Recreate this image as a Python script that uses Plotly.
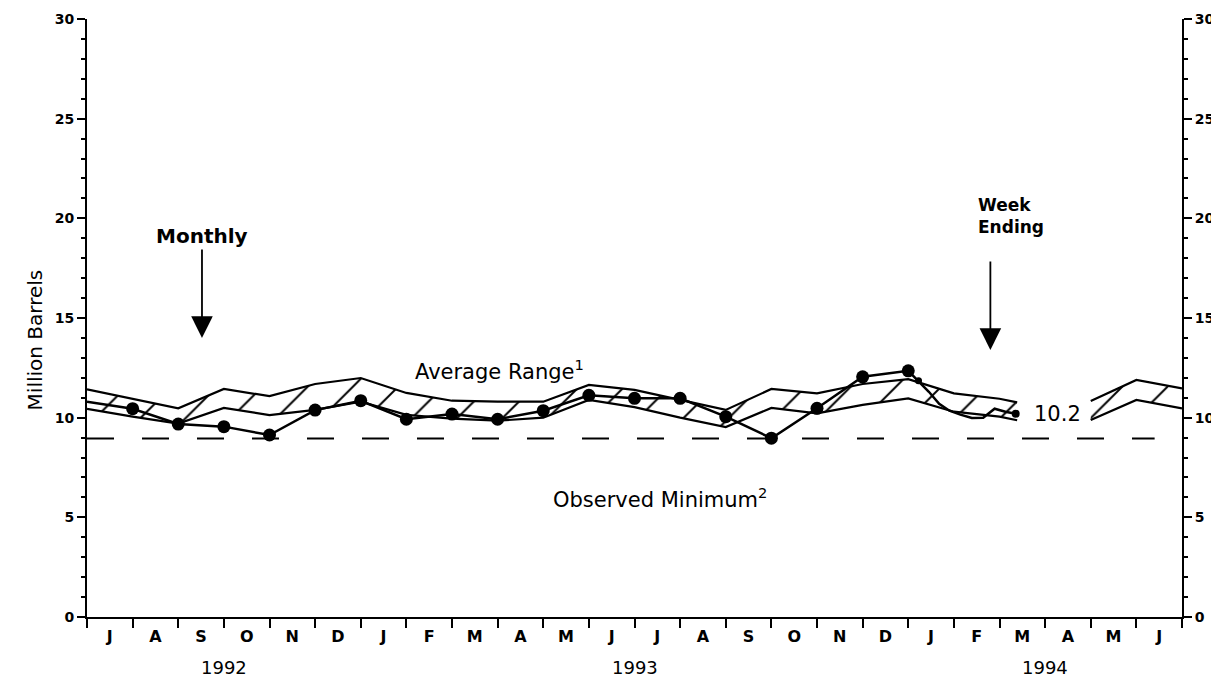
import calendar
import plotly.graph_objects as go

# ---------------- data ----------------
month_letters = ["J", "A", "S", "O", "N", "D", "J", "F", "M", "A", "M", "J",
                 "J", "A", "S", "O", "N", "D", "J", "F", "M", "A", "M", "J"]
year_labels = ["1992", "1993", "1994"]
year_centers = [3, 12, 21]  # month-index centres of each year's span

# monthly stocks (end of month), million barrels
monthly_dates = ["1992-06-30", "1992-07-31", "1992-08-31", "1992-09-30", "1992-10-31",
                 "1992-11-30", "1992-12-31", "1993-01-31", "1993-02-28", "1993-03-31",
                 "1993-04-30", "1993-05-31", "1993-06-30", "1993-07-31", "1993-08-31",
                 "1993-09-30", "1993-10-31", "1993-11-30", "1993-12-31"]
monthly_values = [10.8, 10.45, 9.68, 9.55, 9.13, 10.38, 10.85, 9.92, 10.18, 9.92,
                  10.35, 11.12, 10.97, 10.97, 10.05, 8.97, 10.47, 12.05, 12.35]

# weekly stocks (week ending), million barrels
weekly_dates = ["1994-01-07", "1994-01-14", "1994-01-21", "1994-01-28", "1994-02-04",
                "1994-02-11", "1994-02-18", "1994-02-25", "1994-03-04", "1994-03-11"]
weekly_values = [11.85, 11.3, 10.7, 10.35, 10.15, 9.98, 10.0, 10.45, 10.3, 10.2]

# average range band (upper / lower), two segments
band1_dates = ["1992-06-30", "1992-07-31", "1992-08-31", "1992-09-30", "1992-10-31",
               "1992-11-30", "1992-12-31", "1993-01-31", "1993-02-28", "1993-03-31",
               "1993-04-30", "1993-05-31", "1993-06-30", "1993-07-31", "1993-08-31",
               "1993-09-30", "1993-10-31", "1993-11-30", "1993-12-31", "1994-01-31",
               "1994-02-28", "1994-03-12"]
band1_upper = [11.42, 10.95, 10.47, 11.44, 11.08, 11.69, 11.99, 11.24, 10.85, 10.8,
               10.8, 11.64, 11.39, 10.89, 10.39, 11.44, 11.22, 11.69, 11.93, 11.22,
               10.95, 10.77]
band1_lower = [10.44, 10.05, 9.7, 10.49, 10.13, 10.39, 10.8, 10.14, 9.95, 9.85,
               10.0, 10.89, 10.53, 10.0, 9.53, 10.49, 10.22, 10.64, 10.97, 10.3,
               10.05, 9.87]
band2_dates = ["1994-04-30", "1994-05-31", "1994-06-30"]
band2_upper = [10.84, 11.89, 11.47]
band2_lower = [9.88, 10.89, 10.47]

observed_minimum = 8.95


def mpos(d):
    """Month index from end of June 1992 (0) to end of June 1994 (24)."""
    y, m, dd = (int(p) for p in d.split("-"))
    return (y - 1992) * 12 + (m - 7) + dd / calendar.monthrange(y, m)[1]


FONT = "DejaVu Sans"
fig = go.Figure()

# ---------------- average range band ----------------
for dates, up, lo in [(band1_dates, band1_upper, band1_lower),
                      (band2_dates, band2_upper, band2_lower)]:
    xs = [mpos(d) for d in dates]
    fig.add_trace(go.Scatter(x=xs, y=lo, mode="lines",
                             line=dict(color="black", width=2.2),
                             showlegend=False, hoverinfo="skip"))
    fig.add_trace(go.Scatter(x=xs, y=up, mode="lines", fill="tonexty",
                             fillcolor="rgba(0,0,0,0)",
                             fillpattern=dict(shape="/", fgcolor="black",
                                              fgopacity=1,
                                              bgcolor="rgba(0,0,0,0)",
                                              size=32, solidity=0.06),
                             line=dict(color="black", width=2.2),
                             showlegend=False, hoverinfo="skip"))

# ---------------- observed minimum ----------------
fig.add_trace(go.Scatter(x=[0, 23.4], y=[observed_minimum, observed_minimum],
                         mode="lines",
                         line=dict(color="black", width=2, dash="27px,28px"),
                         showlegend=False, hoverinfo="skip"))

# ---------------- stocks line ----------------
all_x = [mpos(d) for d in monthly_dates] + [mpos(d) for d in weekly_dates]
all_y = monthly_values + weekly_values
sizes = [0] + [13] * (len(monthly_values) - 1) + [7] + [0] * (len(weekly_values) - 2) + [8]
fig.add_trace(go.Scatter(x=all_x, y=all_y, mode="lines+markers",
                         line=dict(color="black", width=2.5),
                         marker=dict(color="#000000", size=sizes, opacity=1,
                                     line=dict(width=0, color="#000000")),
                         showlegend=False, hoverinfo="skip"))

# invisible trace for the right axis
fig.add_trace(go.Scatter(x=[0], y=[0], yaxis="y2", mode="markers",
                         marker=dict(size=0, opacity=0), showlegend=False,
                         hoverinfo="skip"))

# ---------------- axes ----------------
yax = dict(range=[0, 30], tickmode="linear", tick0=0, dtick=5, automargin=False,
           ticks="outside", ticklen=8, tickwidth=2, tickcolor="black",
           showline=True, linecolor="black", linewidth=2,
           showgrid=False, zeroline=False,
           tickfont=dict(family=FONT, size=14, color="black", weight="bold"),
           minor=dict(tick0=0, dtick=1, ticks="outside", ticklen=4,
                      tickwidth=1.5, tickcolor="black", showgrid=False))

# the page body adds an 8px offset, so the figure is 8px smaller than the window
fig.update_layout(
    width=1211, height=678,
    margin=dict(l=79, r=37, t=11, b=69, autoexpand=False),
    paper_bgcolor="white", plot_bgcolor="white",
    xaxis=dict(range=[0, 24], showgrid=False, zeroline=False, automargin=False,
               showline=True, linecolor="black", linewidth=2,
               tickmode="array", tickvals=[i + 0.5 for i in range(24)],
               ticktext=month_letters, ticks="", ticklabelstandoff=4,
               tickfont=dict(family=FONT, size=16, color="black", weight="bold"),
               minor=dict(tickmode="linear", tick0=0, dtick=1, ticks="outside",
                          ticklen=9, tickwidth=2, tickcolor="black",
                          showgrid=False)),
    yaxis=yax,
    yaxis2=dict(yax, overlaying="y", side="right", anchor="x"),
)

# ---------------- annotations ----------------
ann = []
for lab, c in zip(year_labels, year_centers):
    ann.append(dict(x=c, y=-0.084, xref="x", yref="paper", text=lab,
                    yanchor="middle", showarrow=False,
                    font=dict(family=FONT, size=18, color="black")))

ann.append(dict(x=-0.06, y=0.463, xref="paper", yref="paper",
                text="Million Barrels", textangle=-90, showarrow=False,
                font=dict(family=FONT, size=20, color="black")))

ann.append(dict(x=2.52, y=14.0, xref="x", yref="y", text="Monthly",
                showarrow=True, ax=0, ay=-102, arrowhead=2, arrowsize=2.4,
                arrowwidth=1.8, arrowcolor="black",
                font=dict(family=FONT, size=20, color="black", weight="bold")))

# Week Ending: vertical arrow plus a separate, slightly right-shifted label
ann.append(dict(x=19.8, y=13.4, xref="x", yref="y", text="",
                showarrow=True, ax=0, ay=-90, arrowhead=2, arrowsize=2.4,
                arrowwidth=1.8, arrowcolor="black"))
ann.append(dict(x=19.8, y=20.1, xref="x", yref="y", text="Week<br>Ending",
                showarrow=False, align="left", xanchor="left", xshift=-14,
                yanchor="middle",
                font=dict(family=FONT, size=17, color="black", weight="bold")))

ann.append(dict(x=0.377, y=0.413, xref="paper", yref="paper",
                text="Average Range<sup>1</sup>", showarrow=False,
                yanchor="middle",
                font=dict(family=FONT, size=21, color="black")))
ann.append(dict(x=0.523, y=0.199, xref="paper", yref="paper",
                text="Observed Minimum<sup>2</sup>", showarrow=False,
                yanchor="middle",
                font=dict(family=FONT, size=21, color="black")))
ann.append(dict(x=mpos(weekly_dates[-1]), y=weekly_values[-1], xref="x", yref="y",
                text=f"{weekly_values[-1]:.1f}", showarrow=False,
                xanchor="left", xshift=16,
                font=dict(family=FONT, size=21, color="black")))

fig.update_layout(annotations=ann)

fig.write_html("out.html")
